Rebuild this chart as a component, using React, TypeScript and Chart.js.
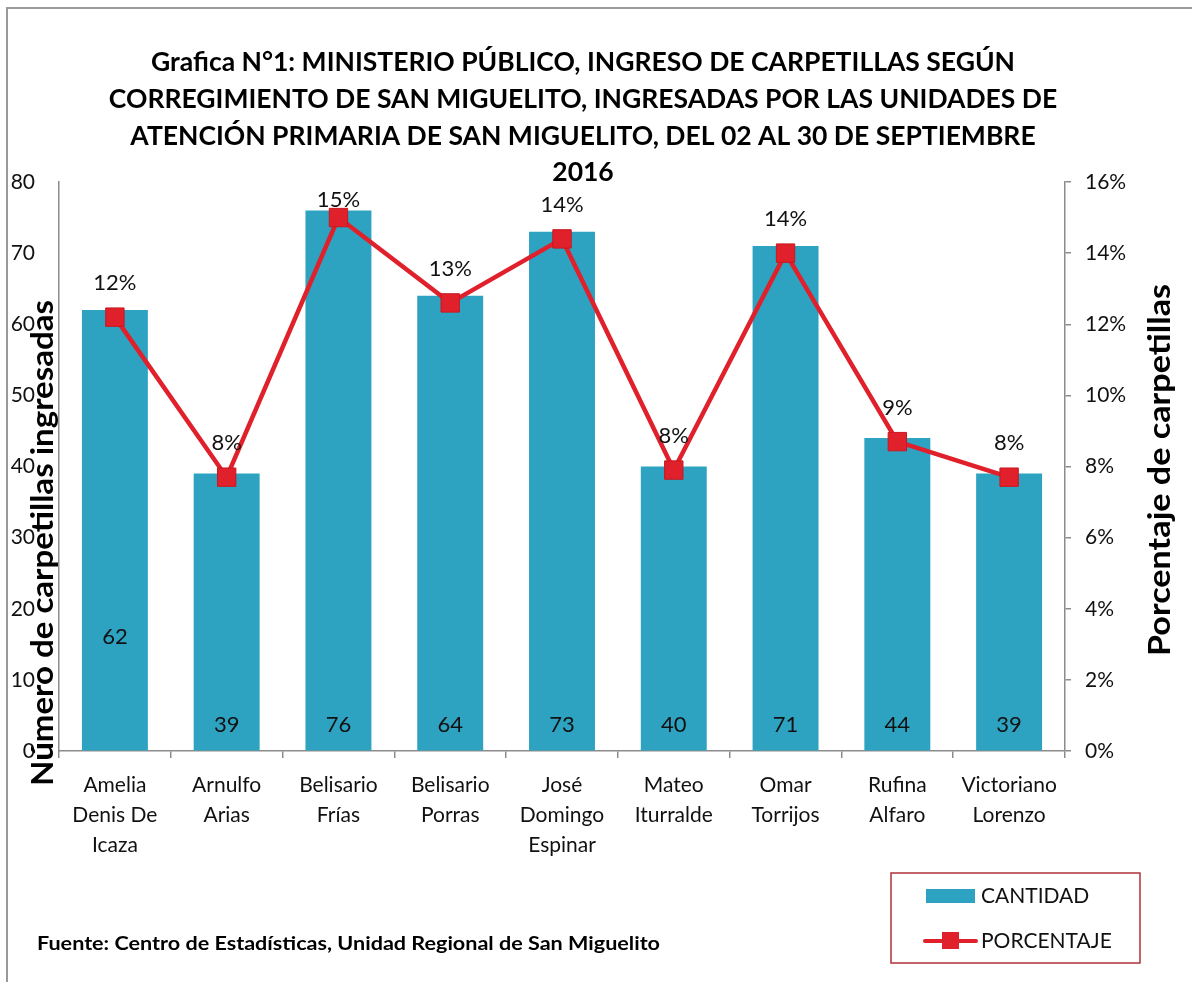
import React, { useEffect, useRef } from "react";
import { Chart, registerables } from "chart.js";

Chart.register(...registerables);

const titleLines = [
  "Grafica N°1: MINISTERIO PÚBLICO, INGRESO DE CARPETILLAS SEGÚN",
  "CORREGIMIENTO DE SAN MIGUELITO, INGRESADAS POR LAS UNIDADES DE",
  "ATENCIÓN PRIMARIA DE SAN MIGUELITO, DEL 02 AL 30 DE SEPTIEMBRE",
  "2016",
];
const categories = [
  ["Amelia", "Denis De", "Icaza"],
  ["Arnulfo", "Arias"],
  ["Belisario", "Frías"],
  ["Belisario", "Porras"],
  ["José", "Domingo", "Espinar"],
  ["Mateo", "Iturralde"],
  ["Omar", "Torrijos"],
  ["Rufina", "Alfaro"],
  ["Victoriano", "Lorenzo"],
];
const cantidad = [62, 39, 76, 64, 73, 40, 71, 44, 39];
const porcentaje = [12.2, 7.7, 15.0, 12.6, 14.4, 7.9, 14.0, 8.7, 7.7];
const porcentajeLabels = ["12%", "8%", "15%", "13%", "14%", "8%", "14%", "9%", "8%"];
const seriesNames = ["CANTIDAD", "PORCENTAJE"];
const leftTitle = "Número de carpetillas ingresadas";
const rightTitle = "Porcentaje de carpetillas";
const sourceText = "Fuente: Centro de Estadísticas, Unidad Regional de San Miguelito";

const FONT = "Lato, 'Open Sans', sans-serif";
const BAR = "#2EA3C1";
const RED = "#E0202A";
const AXIS = "#8C8C8C";

// draw text horizontally stretched/condensed to a target length (Calibri-like proportions)
function fitText(ctx: any, text: string, x: number, y: number, target: number) {
  const w = ctx.measureText(text).width;
  const k = target / w;
  ctx.save();
  ctx.translate(x, y);
  ctx.scale(k, 1);
  ctx.fillText(text, 0, 0);
  ctx.restore();
}

const decorPlugin = {
  id: "decor",
  beforeDraw(chart: any) {
    const ctx = chart.ctx;
    ctx.save();
    ctx.fillStyle = "#ffffff";
    ctx.fillRect(0, 0, chart.width, chart.height);
    ctx.strokeStyle = "#9A9A9A";
    ctx.lineWidth = 2;
    ctx.beginPath();
    ctx.moveTo(7, chart.height);
    ctx.lineTo(7, 8);
    ctx.lineTo(chart.width, 8);
    ctx.stroke();
    ctx.restore();
  },
  afterDatasetsDraw(chart: any) {
    const ctx = chart.ctx;
    const area = chart.chartArea;
    ctx.save();
    ctx.fillStyle = "#111";
    ctx.font = `22px ${FONT}`;
    ctx.textAlign = "center";
    ctx.textBaseline = "middle";
    const barMeta = chart.getDatasetMeta(0);
    barMeta.data.forEach((el: any, i: number) => {
      const y = i === 0 ? area.bottom - 114 : area.bottom - 26;
      ctx.fillText(String(cantidad[i]), el.x, y);
    });
    const lineMeta = chart.getDatasetMeta(1);
    lineMeta.data.forEach((el: any, i: number) => {
      const y = Math.max(el.y - 34, area.top + 18);
      ctx.fillText(porcentajeLabels[i], el.x, y);
    });
    ctx.restore();
  },
  afterDraw(chart: any) {
    const ctx = chart.ctx;
    ctx.save();
    ctx.fillStyle = "#000";
    ctx.textAlign = "center";
    ctx.textBaseline = "middle";
    ctx.font = `bold 26.5px ${FONT}`;
    const ty = [62, 99, 136, 172];
    titleLines.forEach((t, i) => ctx.fillText(t, 583, ty[i]));

    // axis titles
    ctx.save();
    ctx.translate(43, 543);
    ctx.rotate(-Math.PI / 2);
    ctx.font = `bold 31px ${FONT}`;
    fitText(ctx, leftTitle, 0, 0, 486);
    ctx.restore();
    ctx.save();
    ctx.translate(1160, 470);
    ctx.rotate(-Math.PI / 2);
    ctx.font = `bold 30px ${FONT}`;
    fitText(ctx, rightTitle, 0, 0, 372);
    ctx.restore();

    // source
    ctx.textAlign = "left";
    ctx.font = `bold 19px ${FONT}`;
    ctx.save();
    ctx.textAlign = "left";
    const w = ctx.measureText(sourceText).width;
    ctx.translate(37, 944);
    ctx.scale(623 / w, 1);
    ctx.fillText(sourceText, 0, 0);
    ctx.restore();

    // legend
    ctx.strokeStyle = "#B0303A";
    ctx.lineWidth = 1.5;
    ctx.strokeRect(891, 873, 249, 90);
    ctx.fillStyle = BAR;
    ctx.fillRect(926, 889, 49, 14);
    ctx.strokeStyle = RED;
    ctx.lineWidth = 4;
    ctx.lineCap = "round";
    ctx.beginPath();
    ctx.moveTo(925, 941);
    ctx.lineTo(976, 941);
    ctx.stroke();
    ctx.fillStyle = RED;
    ctx.fillRect(942, 932, 17, 17);
    ctx.fillStyle = "#111";
    ctx.font = `21px ${FONT}`;
    ctx.fillText(seriesNames[0], 981, 896);
    ctx.fillText(seriesNames[1], 981, 941);
    ctx.restore();
  },
};

export default function App() {
  const ref = useRef<HTMLCanvasElement | null>(null);
  useEffect(() => {
    if (!ref.current) return;
    const chart = new Chart(ref.current, {
      type: "bar",
      data: {
        labels: categories as any,
        datasets: [
          {
            type: "bar",
            label: seriesNames[0],
            data: cantidad,
            backgroundColor: BAR,
            barPercentage: 0.59,
            categoryPercentage: 1,
            yAxisID: "y",
            order: 2,
          },
          {
            type: "line",
            label: seriesNames[1],
            data: porcentaje,
            borderColor: RED,
            backgroundColor: RED,
            borderWidth: 4.5,
            pointStyle: "rect",
            pointRadius: 13,
            pointBorderWidth: 1,
            pointBorderColor: "#C81820",
            pointBackgroundColor: RED,
            yAxisID: "y1",
            order: 1,
          } as any,
        ],
      },
      options: {
        responsive: false,
        animation: false,
        layout: { padding: { top: 182, left: 0, right: 0, bottom: 0 } },
        plugins: {
          legend: { display: false },
          title: { display: false },
          tooltip: { enabled: false },
        },
        scales: {
          x: {
            offset: true,
            grid: {
              offset: true,
              drawOnChartArea: false,
              drawTicks: true,
              tickLength: 7,
              color: AXIS,
              lineWidth: 1.5,
            },
            border: { display: true, color: AXIS, width: 1.5 },
            ticks: {
              color: "#111",
              font: { family: FONT, size: 21, lineHeight: 1.43 },
              padding: 12,
              maxRotation: 0,
              autoSkip: false,
            },
            afterFit(scale: any) {
              scale.height = 231;
            },
          },
          y: {
            position: "left",
            min: 0,
            max: 80,
            grid: { display: true, drawOnChartArea: false, drawTicks: false },
            border: { display: true, color: AXIS, width: 1.5 },
            ticks: {
              stepSize: 10,
              color: "#111",
              font: { family: FONT, size: 21 },
              padding: 24,
            },
            afterFit(scale: any) {
              scale.width = 59;
            },
          },
          y1: {
            position: "right",
            min: 0,
            max: 16,
            grid: {
              display: true,
              drawOnChartArea: false,
              drawTicks: true,
              tickLength: 6,
              color: AXIS,
              lineWidth: 1.5,
            },
            border: { display: true, color: AXIS, width: 1.5 },
            ticks: {
              stepSize: 2,
              color: "#111",
              font: { family: FONT, size: 21 },
              padding: 14,
              callback: (v: any) => v + "%",
            },
            afterFit(scale: any) {
              scale.width = 127;
            },
          },
        },
      },
      plugins: [decorPlugin],
    });
    return () => chart.destroy();
  }, []);
  return (
    <div style={{ position: "absolute", left: 0, top: 0, width: 1192, height: 982, background: "#fff" }}>
      <canvas ref={ref} width={1192} height={982} style={{ display: "block" }} />
    </div>
  );
}
